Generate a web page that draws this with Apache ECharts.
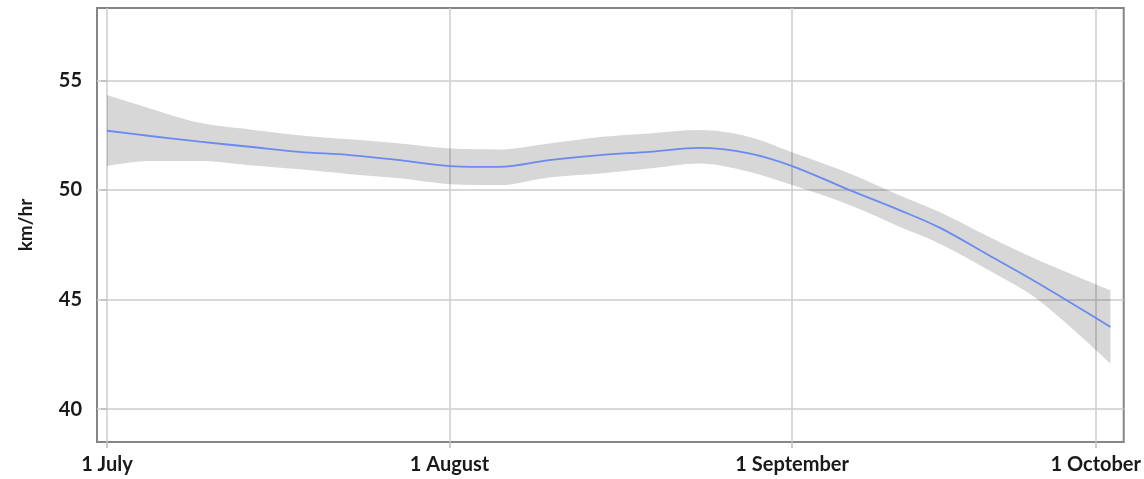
<!DOCTYPE html>
<html>
<head>
<meta charset="utf-8">
<script src="https://cdn.jsdelivr.net/npm/echarts@6/dist/echarts.min.js"></script>
<style>
html,body{margin:0;padding:0;background:#fff;}
#chart{width:1144px;height:479px;}
</style>
</head>
<body>
<div id="chart"></div>
<script>
// x = days since 1 July
const days  = [0, 3.9, 8.4, 12.9, 17.4, 22, 26.5, 31.1, 35.5, 40, 44.6, 49.1, 53.6, 58.1, 62, 67.2, 71.7, 75.3, 79.8, 84.3, 90.8];
const fit   = [52.70, 52.46, 52.20, 51.97, 51.74, 51.59, 51.36, 51.09, 51.05, 51.36, 51.59, 51.74, 51.92, 51.67, 51.09, 49.99, 49.08, 48.29, 47.02, 45.73, 43.75];
const upper = [54.33, 53.72, 53.06, 52.76, 52.50, 52.31, 52.12, 51.89, 51.85, 52.12, 52.42, 52.58, 52.73, 52.42, 51.72, 50.75, 49.76, 49.00, 47.86, 46.79, 45.42];
const lower = [51.09, 51.32, 51.32, 51.13, 50.94, 50.72, 50.53, 50.26, 50.22, 50.57, 50.75, 50.98, 51.21, 50.83, 50.22, 49.31, 48.32, 47.56, 46.34, 44.97, 42.08];
const xTickDays   = [0, 31, 62, 89.47];
const xTickLabels = ['1 July', '1 August', '1 September', '1 October'];
const yTicks = [40, 45, 50, 55];

// [value, day] so that stacking applies to the value dimension
const lowerPts = days.map((d, i) => [lower[i], d]);
const bandPts  = days.map((d, i) => [+(upper[i] - lower[i]).toFixed(2), d]);
const fitPts   = days.map((d, i) => [d, fit[i]]);

const chart = echarts.init(document.getElementById('chart'));
const labelFont = { fontFamily: 'Lato', fontWeight: 'bold', fontSize: 20, color: '#1a1a1a' };
chart.setOption({
  animation: false,
  backgroundColor: '#fff',
  grid: { left: 97, right: 20, top: 8, bottom: 37, show: true, borderColor: '#858585', borderWidth: 2, backgroundColor: 'transparent' },
  xAxis: {
    type: 'value', min: -0.9, max: 92,
    axisLine: { show: false },
    axisTick: { show: true, length: 6, customValues: xTickDays, lineStyle: { color: '#bdbdbd', width: 1.5 } },
    axisLabel: Object.assign({
      customValues: xTickDays, margin: 13,
      formatter: v => { const i = xTickDays.indexOf(v); return i >= 0 ? xTickLabels[i] : ''; }
    }, labelFont),
    splitLine: { show: true, lineStyle: { color: '#cdcdcd', width: 1.5 } }
  },
  yAxis: {
    type: 'value', min: 38.5, max: 58.3,
    name: 'km/hr', nameLocation: 'middle', nameGap: 62, nameRotate: 90,
    nameTextStyle: Object.assign({}, labelFont, { fontSize: 19 }),
    axisLine: { show: false },
    axisTick: { show: true, length: 6, customValues: yTicks, lineStyle: { color: '#bdbdbd', width: 1.5 } },
    axisLabel: Object.assign({ customValues: yTicks, margin: 15 }, labelFont),
    splitLine: { show: true, lineStyle: { color: '#cdcdcd', width: 1.5 } }
  },
  series: [
    { type: 'line', data: lowerPts, encode: { x: 1, y: 0 }, stack: 'band', smooth: 0.35, symbol: 'none', lineStyle: { opacity: 0 }, z: 2 },
    { type: 'line', data: bandPts, encode: { x: 1, y: 0 }, stack: 'band', smooth: 0.35, symbol: 'none', lineStyle: { opacity: 0 },
      areaStyle: { color: 'rgba(0,0,0,0.155)', opacity: 1 }, z: 2 },
    { type: 'line', data: fitPts, smooth: 0.35, symbol: 'none', lineStyle: { color: '#6a8af0', width: 1.8 }, z: 3 }
  ]
});
</script>
</body>
</html>
